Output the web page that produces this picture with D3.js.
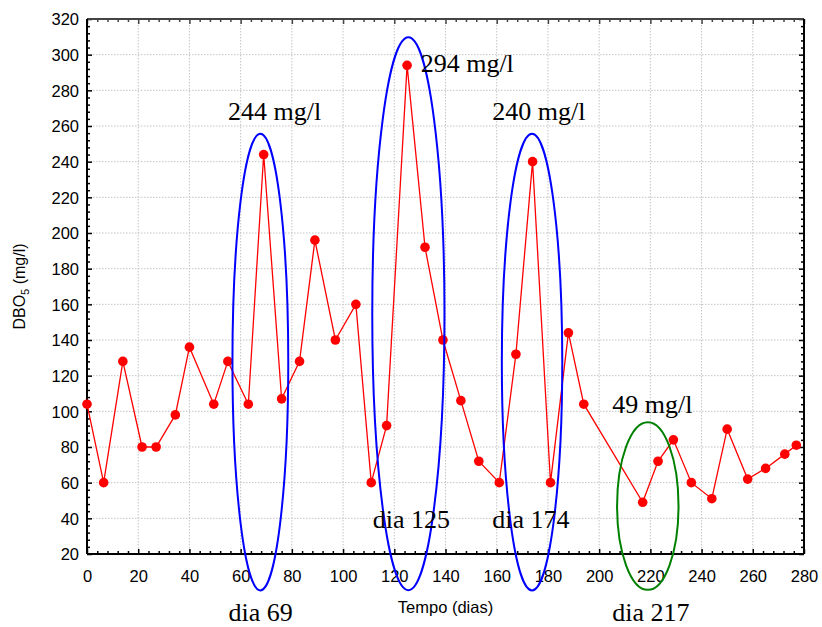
<!DOCTYPE html>
<html>
<head>
<meta charset="utf-8">
<script src="https://cdn.jsdelivr.net/npm/d3@7"></script>
<style>
  body { margin: 0; background: #fff; }
  svg { display: block; }
  .tick text { font-family: "Liberation Sans", Arial, sans-serif; font-size: 16.5px; fill: #000; }
</style>
</head>
<body>
<div id="chart"></div>
<script>
// DBO5 ao longo do tempo
const dias = [0, 6.5, 14, 21.5, 27, 34.5, 40, 49.5, 55, 63, 69, 76, 83, 89, 97, 105, 111, 117, 125, 132,
  139, 146, 153, 161, 167.5, 174, 181, 188, 194, 217, 223, 229, 236, 244, 250, 258, 265, 272.5, 277];
const dbo = [104, 60, 128, 80, 80, 98, 136, 104, 128, 104, 244, 107, 128, 196, 140, 160, 60, 92, 294, 192,
  140, 106, 72, 60, 132, 240, 60, 144, 104, 49, 72, 84, 60, 51, 90, 62, 68, 76, 81];

const xTicks = d3.range(0, 281, 20);
const yTicks = d3.range(20, 321, 20);

// elipses de destaque (centro e raios em unidades dos dados)
const elipses = [
  { cx: 67.7, cy: 127.6, rx: 10.9, ry: 128, cor: '#0000ff' },
  { cx: 125.5, cy: 154.7, rx: 14.1, ry: 155, cor: '#0000ff' },
  { cx: 173.8, cy: 127.6, rx: 11.8, ry: 128, cor: '#0000ff' },
  { cx: 219, cy: 46.9, rx: 12.0, ry: 47, cor: '#008000' }
];

const anotacoes = [
  { texto: '244 mg/l', dia: 55.1, valor: 263.4 },
  { texto: '294 mg/l', dia: 130.3, valor: 290.1 },
  { texto: '240 mg/l', dia: 158.3, valor: 263.4 },
  { texto: '49 mg/l', dia: 205.1, valor: 98.9 },
  { texto: 'dia 69', dia: 55.3, valor: -17.8 },
  { texto: 'dia 125', dia: 111.6, valor: 34.7 },
  { texto: 'dia 174', dia: 158.3, valor: 34.7 },
  { texto: 'dia 217', dia: 205.1, valor: -17.8 }
];

const width = 822, height = 627;
const margin = { top: 19, right: 18, bottom: 73, left: 87 };
const iw = width - margin.left - margin.right;
const ih = height - margin.top - margin.bottom;

const x = d3.scaleLinear().domain([0, 280]).range([0, iw]);
const y = d3.scaleLinear().domain([20, 320]).range([ih, 0]);

const svg = d3.select('#chart').append('svg')
  .attr('width', width)
  .attr('height', height);
const g = svg.append('g').attr('transform', `translate(${margin.left},${margin.top})`);

// grade
g.append('g').selectAll('line')
  .data(xTicks.slice(1, -1))
  .join('line')
  .attr('x1', d => x(d)).attr('x2', d => x(d))
  .attr('y1', 0).attr('y2', ih)
  .attr('stroke', '#c4c4c4').attr('stroke-dasharray', '1.5,1.5');
g.append('g').selectAll('line')
  .data(yTicks.slice(1, -1))
  .join('line')
  .attr('y1', d => y(d)).attr('y2', d => y(d))
  .attr('x1', 0).attr('x2', iw)
  .attr('stroke', '#c4c4c4').attr('stroke-dasharray', '1.5,1.5');

// eixos com marcas para dentro
const xMinor = d3.range(0, 281, 4).filter(d => d % 20 !== 0);
const yMinor = d3.range(20, 321, 4).filter(d => (d - 20) % 20 !== 0);

function eixo(axisFn, scale, ticks, size, labels, transform, cor) {
  const a = axisFn(scale).tickValues(ticks).tickSizeInner(size).tickSizeOuter(0);
  if (!labels) a.tickFormat('');
  const sel = g.append('g').attr('transform', transform).call(a);
  sel.select('.domain').remove();
  sel.selectAll('.tick line').attr('stroke', cor).attr('stroke-width', 1.5);
  return sel;
}

const xa = eixo(d3.axisBottom, x, xTicks, -5, true, `translate(0,${ih})`, '#000');
xa.selectAll('.tick text').attr('dy', null).attr('y', 28);
eixo(d3.axisBottom, x, xMinor, -3, false, `translate(0,${ih})`, '#000');
const ya = eixo(d3.axisLeft, y, yTicks, -5, true, 'translate(0,0)', '#000');
ya.selectAll('.tick text').attr('x', -8).attr('dy', '0.36em');
eixo(d3.axisLeft, y, yMinor, -3, false, 'translate(0,0)', '#000');
eixo(d3.axisTop, x, xTicks, -5, false, 'translate(0,0)', '#444');
eixo(d3.axisTop, x, xMinor, -3, false, 'translate(0,0)', '#444');
eixo(d3.axisRight, y, yTicks, -5, false, `translate(${iw},0)`, '#000');
eixo(d3.axisRight, y, yMinor, -3, false, `translate(${iw},0)`, '#000');

// moldura
g.append('line').attr('x1', 0).attr('x2', iw).attr('y1', 0).attr('y2', 0)
  .attr('stroke', '#444').attr('stroke-width', 2);
g.append('line').attr('x1', iw).attr('x2', iw).attr('y1', 0).attr('y2', ih)
  .attr('stroke', '#000').attr('stroke-width', 2);
g.append('line').attr('x1', 0).attr('x2', 0).attr('y1', 0).attr('y2', ih)
  .attr('stroke', '#000').attr('stroke-width', 2);
g.append('line').attr('x1', 0).attr('x2', iw).attr('y1', ih).attr('y2', ih)
  .attr('stroke', '#000').attr('stroke-width', 2);

// serie
const pts = dias.map((d, i) => ({ dia: d, valor: dbo[i] }));
g.append('path')
  .datum(pts)
  .attr('fill', 'none')
  .attr('stroke', '#ff0000')
  .attr('stroke-width', 1.3)
  .attr('d', d3.line().x(d => x(d.dia)).y(d => y(d.valor)));
g.append('g').selectAll('circle')
  .data(pts)
  .join('circle')
  .attr('cx', d => x(d.dia))
  .attr('cy', d => y(d.valor))
  .attr('r', 4.8)
  .attr('fill', '#ff0000');

// elipses
g.append('g').selectAll('ellipse')
  .data(elipses)
  .join('ellipse')
  .attr('cx', d => x(d.cx))
  .attr('cy', d => y(d.cy))
  .attr('rx', d => x(d.rx) - x(0))
  .attr('ry', d => y(0) - y(d.ry))
  .attr('fill', 'none')
  .attr('stroke', d => d.cor)
  .attr('stroke-width', 2);

// anotacoes
g.append('g').selectAll('text')
  .data(anotacoes)
  .join('text')
  .attr('x', d => x(d.dia))
  .attr('y', d => y(d.valor))
  .attr('font-family', '"Liberation Serif", "Times New Roman", serif')
  .attr('font-size', 26)
  .text(d => d.texto);

// titulos dos eixos
svg.append('text')
  .attr('x', margin.left + iw / 2)
  .attr('y', 613)
  .attr('text-anchor', 'middle')
  .attr('font-family', '"Liberation Sans", Arial, sans-serif')
  .attr('font-size', 16.5)
  .text('Tempo (dias)');

const yt = svg.append('text')
  .attr('transform', `translate(25,${margin.top + ih / 2}) rotate(-90)`)
  .attr('text-anchor', 'middle')
  .attr('font-family', '"Liberation Sans", Arial, sans-serif')
  .attr('font-size', 16);
yt.append('tspan').text('DBO');
yt.append('tspan').attr('font-size', 11).attr('dy', 4).text('5');
yt.append('tspan').attr('dy', -4).text(' (mg/l)');
</script>
</body>
</html>
